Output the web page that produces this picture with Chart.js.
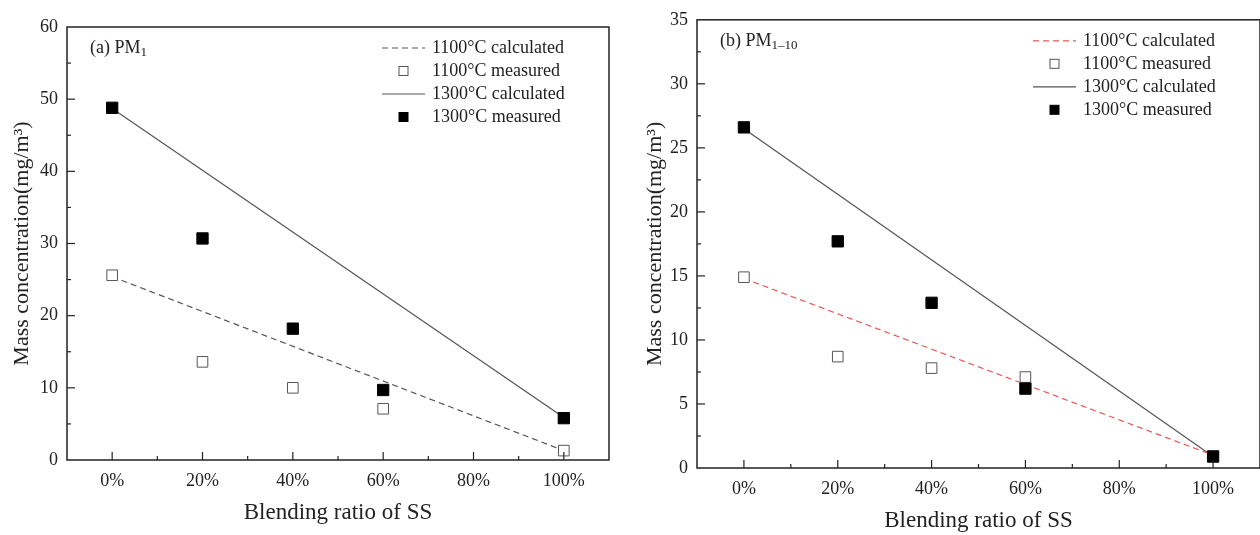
<!DOCTYPE html>
<html>
<head>
<meta charset="utf-8">
<script src="https://cdn.jsdelivr.net/npm/chart.js@4.4.1/dist/chart.umd.min.js"></script>
<style>
  body { margin: 0; width: 1260px; height: 535px; overflow: hidden; background: #fff; position: relative; }
  canvas { position: absolute; top: 0; }
  #chartA { left: 0; }
  #chartB { left: 630px; }
</style>
</head>
<body>
<canvas id="chartA" width="620" height="535"></canvas>
<canvas id="chartB" width="640" height="535"></canvas>
<script>
// blending ratios (%) where samples were measured
const ratios = [0, 20, 40, 60, 100];
const calcEnds = [0, 100];
const xTickLabels = ['0%', '20%', '40%', '60%', '80%', '100%'];

// (a) PM1
const pm1Meas1100 = [25.6, 13.6, 10.0, 7.1, 1.3];
const pm1Meas1300 = [48.8, 30.7, 18.2, 9.7, 5.8];
const pm1Calc1100 = [25.4, 1.3];
const pm1Calc1300 = [48.7, 5.9];

// (b) PM1-10
const pm110Meas1100 = [14.9, 8.7, 7.8, 7.1, 0.9];
const pm110Meas1300 = [26.6, 17.7, 12.9, 6.2, 0.9];
const pm110Calc1100 = [14.8, 1.0];
const pm110Calc1300 = [26.5, 0.9];

const seriesLabels = ['1100°C calculated', '1100°C measured', '1300°C calculated', '1300°C measured'];

const serif = '"Liberation Serif", "Times New Roman", serif';
const ink = '#222';

function pts(xs, ys) {
    return xs.map((x, i) => ({ x: x, y: ys[i] }));
}

// frame, inward ticks, panel label and legend
const decorPlugin = {
    id: 'decor',
    afterDraw(chart, args, opts) {
        const ctx = chart.ctx;
        const area = chart.chartArea;
        ctx.save();
        ctx.strokeStyle = ink;
        ctx.lineWidth = 1.5;
        ctx.strokeRect(area.left, area.top, area.right - area.left, area.bottom - area.top);

        // tick marks pointing into the plot
        ctx.lineWidth = 1.2;
        const xs = chart.scales.x;
        xs.ticks.forEach(t => {
            if (t.value <= xs.min || t.value >= xs.max) return;
            const px = xs.getPixelForValue(t.value);
            const len = t.value % 20 === 0 ? 8 : 4;
            ctx.beginPath();
            ctx.moveTo(px, area.bottom);
            ctx.lineTo(px, area.bottom - len);
            ctx.stroke();
        });
        const ys = chart.scales.y;
        ys.ticks.forEach(t => {
            if (t.value <= ys.min || t.value >= ys.max) return;
            const py = ys.getPixelForValue(t.value);
            const len = Math.abs(t.value % opts.major) < 1e-6 ? 8 : 4;
            ctx.beginPath();
            ctx.moveTo(area.left, py);
            ctx.lineTo(area.left + len, py);
            ctx.stroke();
        });

        // panel label with subscript
        ctx.fillStyle = ink;
        ctx.textBaseline = 'middle';
        ctx.textAlign = 'left';
        ctx.font = '18px ' + serif;
        const lx = area.left + 23, ly = area.top + 21;
        ctx.fillText(opts.label, lx, ly);
        const w = ctx.measureText(opts.label).width;
        ctx.font = '13px ' + serif;
        ctx.fillText(opts.sub, lx + w, ly + 5);

        // legend
        const sx = area.right - 227;
        const tx = area.right - 177;
        chart.data.datasets.forEach((ds, i) => {
            const y = area.top + 21 + i * 23;
            if (ds.showLine) {
                ctx.strokeStyle = ds.borderColor;
                ctx.lineWidth = 1.2;
                ctx.setLineDash(ds.borderDash || []);
                ctx.beginPath();
                ctx.moveTo(sx, y);
                ctx.lineTo(sx + 43, y);
                ctx.stroke();
                ctx.setLineDash([]);
            } else {
                ctx.fillStyle = ds.backgroundColor;
                ctx.fillRect(sx + 17, y - 4.5, 9, 9);
                ctx.strokeStyle = ds.borderColor;
                ctx.lineWidth = 1;
                ctx.strokeRect(sx + 17, y - 4.5, 9, 9);
            }
            ctx.fillStyle = ink;
            ctx.font = '18px ' + serif;
            ctx.fillText(ds.label, tx, y);
        });
        ctx.restore();
    }
};

function makeChart(id, cfg) {
    const ctx = document.getElementById(id).getContext('2d');
    return new Chart(ctx, {
        type: 'scatter',
        data: {
            datasets: [
                {
                    label: seriesLabels[0],
                    data: pts(calcEnds, cfg.calc1100),
                    showLine: true,
                    borderColor: cfg.dashColor,
                    borderWidth: 1.2,
                    borderDash: [6, 4],
                    pointRadius: 0,
                    order: 2
                },
                {
                    label: seriesLabels[1],
                    data: pts(ratios, cfg.meas1100),
                    showLine: false,
                    pointStyle: 'rect',
                    pointRadius: 7.5,
                    backgroundColor: '#fff',
                    borderColor: '#555',
                    borderWidth: 1,
                    order: 1
                },
                {
                    label: seriesLabels[2],
                    data: pts(calcEnds, cfg.calc1300),
                    showLine: true,
                    borderColor: '#555',
                    borderWidth: 1.2,
                    pointRadius: 0,
                    order: 2
                },
                {
                    label: seriesLabels[3],
                    data: pts(ratios, cfg.meas1300),
                    showLine: false,
                    pointStyle: 'rect',
                    pointRadius: 8,
                    backgroundColor: '#000',
                    borderColor: '#000',
                    borderWidth: 1,
                    order: 0
                }
            ]
        },
        options: {
            responsive: false,
            animation: false,
            layout: { padding: { top: cfg.top, right: cfg.right, left: 0, bottom: 0 } },
            scales: {
                x: {
                    type: 'linear',
                    min: -10,
                    max: 110,
                    grid: { display: false, drawTicks: false },
                    border: { display: false },
                    afterFit: (scale) => { scale.height = cfg.xHeight; },
                    ticks: {
                        stepSize: 10,
                        autoSkip: false,
                        maxRotation: 0,
                        padding: 10,
                        color: ink,
                        font: { family: serif, size: 18 },
                        callback: (v) => (v % 20 === 0 && v >= 0 && v <= 100) ? xTickLabels[v / 20] : ''
                    },
                    title: {
                        display: true,
                        text: 'Blending ratio of SS',
                        color: ink,
                        font: { family: serif, size: 23 },
                        padding: { top: 0, bottom: cfg.xTitlePad }
                    }
                },
                y: {
                    min: 0,
                    max: cfg.yMax,
                    grid: { display: false, drawTicks: false },
                    border: { display: false },
                    afterFit: (scale) => { scale.width = 67; },
                    ticks: {
                        stepSize: cfg.yStep,
                        autoSkip: false,
                        padding: 9,
                        color: ink,
                        font: { family: serif, size: 18 },
                        callback: (v) => Math.abs(v % cfg.yMajor) < 1e-6 ? String(v) : ''
                    },
                    title: {
                        display: true,
                        text: 'Mass concentration(mg/m³)',
                        color: ink,
                        font: { family: serif, size: 22 },
                        padding: { top: cfg.yTitlePad, bottom: 0 }
                    }
                }
            },
            plugins: {
                legend: { display: false },
                tooltip: { enabled: false },
                decor: { label: cfg.label, sub: cfg.sub, major: cfg.yMajor }
            }
        },
        plugins: [decorPlugin]
    });
}

makeChart('chartA', {
    calc1100: pm1Calc1100, meas1100: pm1Meas1100,
    calc1300: pm1Calc1300, meas1300: pm1Meas1300,
    dashColor: '#555',
    yMax: 60, yStep: 5, yMajor: 10,
    top: 27, right: 11, xHeight: 75,
    xTitlePad: 8, yTitlePad: 9,
    label: '(a) PM', sub: '1'
});

makeChart('chartB', {
    calc1100: pm110Calc1100, meas1100: pm110Meas1100,
    calc1300: pm110Calc1300, meas1300: pm110Meas1300,
    dashColor: '#e8585a',
    yMax: 35, yStep: 2.5, yMajor: 5,
    top: 17, right: 9, xHeight: 67,
    xTitlePad: 0, yTitlePad: 12,
    label: '(b) PM', sub: '1–10'
});
</script>
</body>
</html>
